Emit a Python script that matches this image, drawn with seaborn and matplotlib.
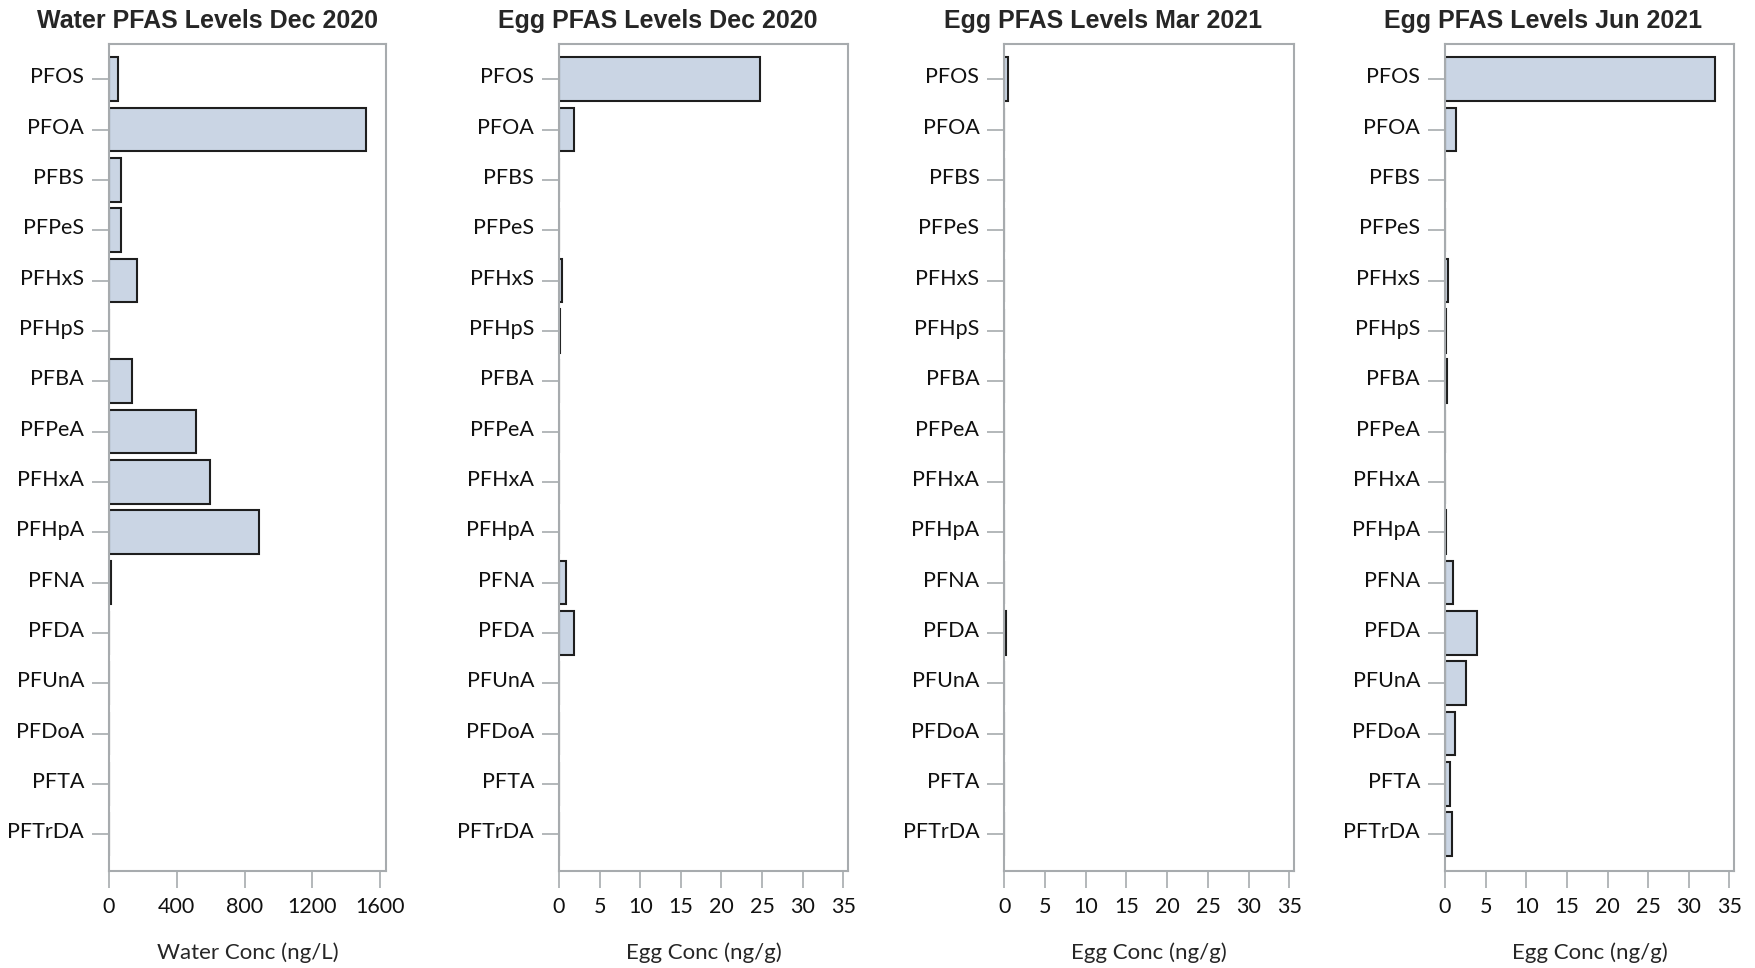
import matplotlib
matplotlib.use("Agg")
import matplotlib.pyplot as plt
import matplotlib.transforms as mtransforms
import seaborn as sns
import pandas as pd

# --- 数据 ---
compounds = ["PFOS", "PFOA", "PFBS", "PFPeS", "PFHxS", "PFHpS", "PFBA", "PFPeA",
             "PFHxA", "PFHpA", "PFNA", "PFDA", "PFUnA", "PFDoA", "PFTA", "PFTrDA"]
water_dec2020 = [55, 1513, 69, 68, 165, 0, 138, 511, 594, 886, 14, 0, 0, 0, 0, 0]
egg_dec2020 = [24.8, 1.85, 0, 0, 0.4, 0.16, 0, 0, 0, 0, 0.82, 1.85, 0, 0, 0, 0]
egg_mar2021 = [0.45, 0, 0, 0, 0, 0, 0, 0, 0, 0, 0, 0.15, 0, 0, 0, 0]
egg_jun2021 = [33.2, 1.4, 0, 0.05, 0.4, 0.15, 0.3, 0, 0, 0.1, 1.0, 3.95, 2.6, 1.27, 0.62, 0.9]

titles = ["Water PFAS Levels Dec 2020", "Egg PFAS Levels Dec 2020",
          "Egg PFAS Levels Mar 2021", "Egg PFAS Levels Jun 2021"]
xlabels = ["Water Conc (ng/L)", "Egg Conc (ng/g)", "Egg Conc (ng/g)", "Egg Conc (ng/g)"]
series = [water_dec2020, egg_dec2020, egg_mar2021, egg_jun2021]
xticks_list = [[0, 400, 800, 1200, 1600]] + [[0, 5, 10, 15, 20, 25, 30, 35]] * 3
xmax_list = [1632, 35.6, 35.6, 35.6]

BAR_COLOR = "#cad5e4"
EDGE_COLOR = "#1e1e1e"
AXIS_GRAY = "#a7abae"

sns.set_theme(style="ticks")
plt.rcParams["font.family"] = ["Lato", "DejaVu Sans"]

W, H = 1756, 968
fig = plt.figure(figsize=(W / 100, H / 100), dpi=100)

# 每个子图的像素位置 (left, right)，标题相对坐标轴中心左移的像素
panel_px = [(109, 385.7), (559, 848), (1004.3, 1294.3), (1445, 1734.3)]
title_shift_px = [40, 46, 46, 47]
top_px, bottom_px = 44, 871

# y 轴标签略微上移（参考图中标签位于刻度线上方）
label_shift = mtransforms.ScaledTranslation(0, 4 / 100, fig.dpi_scale_trans)

n = len(compounds)
for i, (vals, title, xl, xt, xm) in enumerate(zip(series, titles, xlabels, xticks_list, xmax_list)):
    l, r = panel_px[i]
    ax = fig.add_axes([l / W, 1 - bottom_px / H, (r - l) / W, (bottom_px - top_px) / H])
    df = pd.DataFrame({"compound": compounds, "value": vals})
    sns.barplot(data=df, x="value", y="compound", order=compounds, orient="h",
                color=BAR_COLOR, saturation=1, width=0.87,
                edgecolor=EDGE_COLOR, linewidth=1.5, ax=ax)
    ax.set_xlim(0, xm)
    ax.set_ylim(n - 1 + 0.73, -0.7)
    ax.set_xticks(xt)
    ax.set_xticklabels([str(t) for t in xt])
    ax.set_title(title, fontsize=18, fontweight="bold",
                 family=["Liberation Sans", "DejaVu Sans"], pad=11.5,
                 x=0.5 - title_shift_px[i] / (r - l))
    ax.set_xlabel(xl, fontsize=16, labelpad=18)
    ax.set_ylabel("")
    ax.tick_params(axis="both", colors=AXIS_GRAY, labelcolor="#111111",
                   labelsize=15.5, length=12, width=1.2)
    ax.tick_params(axis="y", pad=6)
    ax.tick_params(axis="x", pad=7)
    for lab in ax.get_yticklabels():
        lab.set_transform(lab.get_transform() + label_shift)
    for sp in ax.spines.values():
        sp.set_visible(True)
        sp.set_color(AXIS_GRAY)
        sp.set_linewidth(1.5)

fig.savefig("out.png", dpi=100, facecolor="white")
